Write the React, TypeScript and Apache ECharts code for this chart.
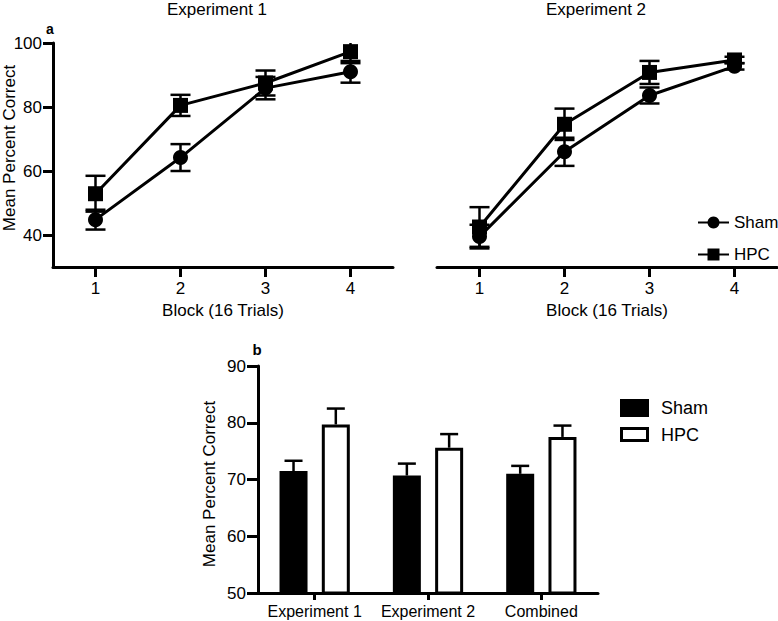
import React, { useEffect, useRef } from "react";
import * as echarts from "echarts";

// ---- Data ----
const blocks = ["1", "2", "3", "4"];
const exp1Sham = [44.8, 64.2, 85.9, 91.0];
const exp1ShamErr = [3.1, 4.2, 3.5, 3.4];
const exp1Hpc = [52.9, 80.5, 87.5, 97.3];
const exp1HpcErr = [5.6, 3.3, 3.9, 3.6];
const exp2Sham = [39.5, 66.0, 83.6, 92.7];
const exp2ShamErr = [3.7, 4.4, 2.5, 1.0];
const exp2Hpc = [42.5, 74.6, 90.8, 94.7];
const exp2HpcErr = [6.2, 4.9, 3.6, 1.0];

const groups = ["Experiment 1", "Experiment 2", "Combined"];
const barSham = [71.5, 70.7, 71.0];
const barShamErr = [1.8, 2.1, 1.4];
const barHpc = [79.7, 75.6, 77.5];
const barHpcErr = [2.8, 2.4, 2.0];

const topTicks = [40, 60, 80, 100];

const FONT = '"Liberation Sans", Arial, Helvetica, sans-serif';
const BAR_W = 28;
const BAR_GAP = 0.51;

function errData(vals: number[], errs: number[]) {
  return vals.map((v, i) => [i, v - errs[i], v + errs[i]]);
}
function upErrData(vals: number[], errs: number[]) {
  return vals.map((v, i) => [i, v, v + errs[i]]);
}

function errRender(offset: number, capHalf: number, bothCaps: boolean) {
  return (params: any, api: any) => {
    const i = api.value(0);
    const lo = api.coord([i, api.value(1)]);
    const hi = api.coord([i, api.value(2)]);
    const x = lo[0] + offset;
    const style = { stroke: "#000", lineWidth: 2.5 };
    const children: any[] = [
      { type: "line", shape: { x1: x, y1: lo[1], x2: x, y2: hi[1] }, style },
      { type: "line", shape: { x1: x - capHalf, y1: hi[1], x2: x + capHalf, y2: hi[1] }, style },
    ];
    if (bothCaps) {
      children.push({ type: "line", shape: { x1: x - capHalf, y1: lo[1], x2: x + capHalf, y2: lo[1] }, style });
    }
    return { type: "group", children };
  };
}

export default function App() {
  const ref = useRef<HTMLDivElement>(null);
  useEffect(() => {
    if (!ref.current) return;
    const chart = echarts.init(ref.current, null, { renderer: "svg" });

    const axisLine = { show: true, lineStyle: { color: "#000", width: 3 } };
    const axisTick = { show: true, length: 10, lineStyle: { color: "#000", width: 3 } };

    const lineSeries = (name: string, data: number[], gi: number, symbol: string) => ({
      type: "line",
      name,
      data,
      xAxisIndex: gi,
      yAxisIndex: gi,
      symbol,
      symbolSize: 15,
      showSymbol: true,
      lineStyle: { color: "#000", width: 3 },
      itemStyle: { color: "#000" },
      z: 3,
    });

    const errSeries = (vals: number[], errs: number[], gi: number) => ({
      type: "custom",
      xAxisIndex: gi,
      yAxisIndex: gi,
      data: errData(vals, errs),
      encode: { x: 0, y: [1, 2] },
      renderItem: errRender(0, 10, true),
      clip: true,
      z: 2,
    });

    const barOffset = (BAR_W * (1 + BAR_GAP)) / 2;

    const blockAxis = (gi: number) => ({
      type: "category",
      gridIndex: gi,
      data: blocks,
      boundaryGap: true,
      axisLine,
      axisTick: { ...axisTick, alignWithLabel: true },
      axisLabel: { fontSize: 17, color: "#000", margin: 13, fontFamily: FONT },
      splitLine: { show: false },
      name: "Block (16 Trials)",
      nameLocation: "middle",
      nameGap: 35,
      nameTextStyle: { fontSize: 17, color: "#000", fontFamily: FONT },
    });

    const option: any = {
      animation: false,
      textStyle: { fontFamily: FONT, color: "#000" },
      grid: [
        { left: 53, top: 43, width: 340, height: 224 },
        { left: 437, top: 43, width: 340, height: 224 },
        { left: 258, top: 366, width: 340, height: 227 },
      ],
      xAxis: [
        blockAxis(0),
        blockAxis(1),
        {
          type: "category",
          gridIndex: 2,
          data: groups,
          boundaryGap: true,
          axisLine,
          axisTick: { show: true, length: 7, alignWithLabel: true, lineStyle: { color: "#000", width: 3 } },
          axisLabel: { fontSize: 16, color: "#000", margin: 10, interval: 0, fontFamily: FONT },
          splitLine: { show: false },
        },
      ],
      yAxis: [
        {
          type: "value",
          gridIndex: 0,
          min: 30,
          max: 100,
          axisLine,
          axisTick: { ...axisTick, customValues: topTicks },
          axisLabel: { fontSize: 17, color: "#000", margin: 11, customValues: topTicks, fontFamily: FONT },
          splitLine: { show: false },
        },
        {
          type: "value",
          gridIndex: 1,
          min: 30,
          max: 100,
          show: false,
          splitLine: { show: false },
        },
        {
          type: "value",
          gridIndex: 2,
          min: 50,
          max: 90,
          interval: 10,
          axisLine,
          axisTick: { ...axisTick, length: 11 },
          axisLabel: { fontSize: 17, color: "#000", margin: 12, fontFamily: FONT },
          splitLine: { show: false },
        },
      ],
      legend: {
        data: ["Sham", "HPC"],
        orient: "vertical",
        left: 697,
        top: 214,
        padding: 0,
        itemWidth: 31,
        itemHeight: 15,
        itemGap: 15,
        selectedMode: false,
        textStyle: { fontSize: 17, color: "#000", fontFamily: FONT },
      },
      series: [
        lineSeries("Sham", exp1Sham, 0, "circle"),
        lineSeries("HPC", exp1Hpc, 0, "rect"),
        lineSeries("Sham", exp2Sham, 1, "circle"),
        lineSeries("HPC", exp2Hpc, 1, "rect"),
        errSeries(exp1Sham, exp1ShamErr, 0),
        errSeries(exp1Hpc, exp1HpcErr, 0),
        errSeries(exp2Sham, exp2ShamErr, 1),
        errSeries(exp2Hpc, exp2HpcErr, 1),
        {
          type: "bar",
          name: "Sham bars",
          xAxisIndex: 2,
          yAxisIndex: 2,
          data: barSham,
          barWidth: BAR_W,
          barGap: BAR_GAP * 100 + "%",
          itemStyle: { color: "#000", borderColor: "#000", borderWidth: 3 },
        },
        {
          type: "bar",
          name: "HPC bars",
          xAxisIndex: 2,
          yAxisIndex: 2,
          data: barHpc,
          barWidth: BAR_W,
          barGap: BAR_GAP * 100 + "%",
          itemStyle: { color: "#fff", borderColor: "#000", borderWidth: 3 },
        },
        {
          type: "custom",
          xAxisIndex: 2,
          yAxisIndex: 2,
          data: upErrData(barSham, barShamErr),
          encode: { x: 0, y: [1, 2] },
          renderItem: errRender(-barOffset, 9, false),
          z: 1,
        },
        {
          type: "custom",
          xAxisIndex: 2,
          yAxisIndex: 2,
          data: upErrData(barHpc, barHpcErr),
          encode: { x: 0, y: [1, 2] },
          renderItem: errRender(barOffset, 9, false),
          z: 1,
        },
      ],
      graphic: [
        { type: "text", x: 217, y: 9, style: { text: "Experiment 1", font: `17px ${FONT}`, fill: "#000", textAlign: "center", textVerticalAlign: "middle" } },
        { type: "text", x: 596, y: 9, style: { text: "Experiment 2", font: `17px ${FONT}`, fill: "#000", textAlign: "center", textVerticalAlign: "middle" } },
        { type: "text", x: 50, y: 29, style: { text: "a", font: `bold 14px ${FONT}`, fill: "#000", textAlign: "center", textVerticalAlign: "middle" } },
        { type: "text", x: 257, y: 349, style: { text: "b", font: `bold 15px ${FONT}`, fill: "#000", textAlign: "center", textVerticalAlign: "middle" } },
        { type: "text", x: 9, y: 148, rotation: Math.PI / 2, style: { text: "Mean Percent Correct", font: `17px ${FONT}`, fill: "#000", textAlign: "center", textVerticalAlign: "middle" } },
        { type: "text", x: 209, y: 484, rotation: Math.PI / 2, style: { text: "Mean Percent Correct", font: `17px ${FONT}`, fill: "#000", textAlign: "center", textVerticalAlign: "middle" } },
        { type: "rect", shape: { x: 620, y: 399, width: 29, height: 18 }, style: { fill: "#000" } },
        { type: "rect", shape: { x: 621.5, y: 428.5, width: 26, height: 12 }, style: { fill: "#fff", stroke: "#000", lineWidth: 3 } },
        { type: "text", x: 661, y: 408, style: { text: "Sham", font: `18px ${FONT}`, fill: "#000", textAlign: "left", textVerticalAlign: "middle" } },
        { type: "text", x: 661, y: 435, style: { text: "HPC", font: `18px ${FONT}`, fill: "#000", textAlign: "left", textVerticalAlign: "middle" } },
      ],
    };

    chart.setOption(option);
    return () => chart.dispose();
  }, []);

  return <div ref={ref} style={{ position: "absolute", left: 0, top: 0, width: 778, height: 621 }} />;
}
